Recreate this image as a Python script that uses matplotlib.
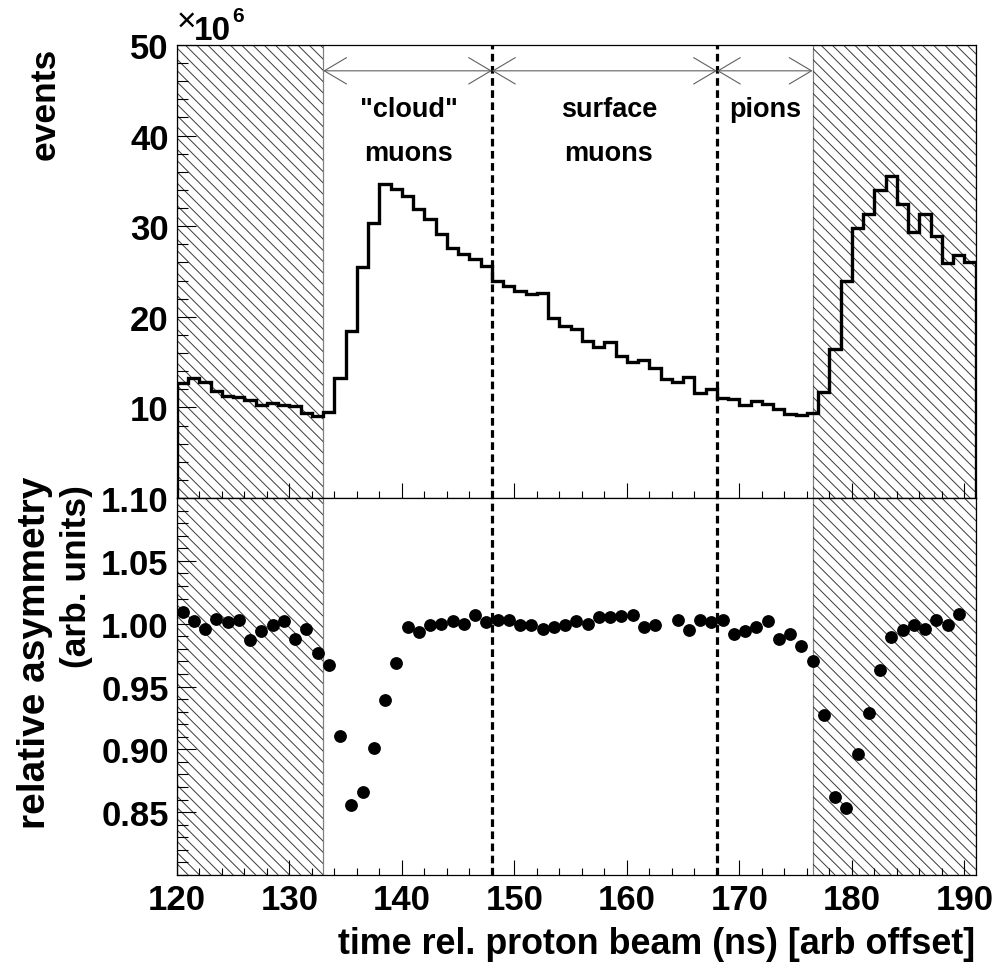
import numpy as np
import matplotlib
matplotlib.use("Agg")
import matplotlib.pyplot as plt
from matplotlib.patches import Rectangle
from matplotlib.collections import LineCollection
import matplotlib.transforms as mtransforms
from matplotlib.ticker import MultipleLocator

plt.rcParams['font.family'] = ['Liberation Sans', 'DejaVu Sans']
plt.rcParams['font.weight'] = 'bold'

# time bins, 1 ns wide
bin_edges = np.arange(120, 192)
bin_centers = bin_edges[:-1] + 0.5

# counts per bin in units of 1e6
events_1e6 = [
    12.7, 13.2, 12.8, 11.8, 11.3, 11.1, 10.8, 10.3, 10.5, 10.3, 10.1, 9.4, 9.1, 9.5,
    13.2, 18.4, 25.5, 30.3, 34.7, 34.1, 33.3, 31.9, 30.8, 29.1, 27.6, 26.9, 26.4, 25.6,
    23.9, 23.4, 22.9, 22.5, 22.6, 19.9, 19.0, 18.6, 17.3, 16.7, 17.2, 15.7, 15.0, 15.2,
    14.4, 13.1, 12.8, 13.4, 11.6, 12.0, 11.0, 10.9, 10.3, 10.7, 10.4, 9.8, 9.3, 9.2,
    9.4, 11.7,
    16.4, 24.0, 29.8, 31.4, 34.0, 35.5, 32.4, 29.4, 31.3, 28.9, 25.9, 26.8, 26.0,
]

# relative asymmetry per bin (nan = no point)
asymmetry = [
    1.009, 1.002, 0.996, 1.004, 1.001, 1.003, 0.987, 0.994, 0.999, 1.002, 0.988, 0.996, 0.977, 0.967,
    0.911, 0.856, 0.866, 0.901, 0.939, 0.969, 0.997, 0.993, 0.999, 1.000, 1.002, 1.000, 1.007, 1.001,
    1.003, 1.003, 0.999, 0.999, 0.996, 0.997, 0.999, 1.002, 1.000, 1.005, 1.005, 1.006, 1.007, 0.997,
    0.999, np.nan, 1.003, 0.995, 1.003, 1.001, 1.003, 0.992, 0.994, 0.997, 1.002, 0.988, 0.992, 0.982,
    0.970, 0.927, 0.862, 0.853, 0.896, 0.929, 0.963, 0.989, 0.995, 0.999, 0.996, 1.003, 0.999, 1.008,
    np.nan,
]

# excluded windows (hatched) and region boundaries
excluded = [(120.0, 133.0), (176.5, 191.0)]
boundaries = [148.0, 168.0]
regions = [(133.0, 148.0), (148.0, 168.0), (168.0, 176.5)]
region_labels = [['"cloud"', 'muons'], ['surface', 'muons'], ['pions']]
label_x = [140.6, 158.4, 172.3]

W, H = 1003, 970
fig = plt.figure(figsize=(W / 100, H / 100), dpi=100)
left, right = 177 / W, 975.7 / W
ax_top = fig.add_axes([left, 1 - 499 / H, right - left, 453 / H])
ax_bot = fig.add_axes([left, 1 - 876 / H, right - left, 377 / H])

xlim = (120, 191)
ax_top.set_xlim(*xlim)
ax_top.set_ylim(0, 50)
ax_bot.set_xlim(*xlim)
ax_bot.set_ylim(0.80, 1.10)


def hatch_band(ax, x0, x1, spacing=11.25):
    y0, y1 = ax.get_ylim()
    rect = Rectangle((x0, y0), x1 - x0, y1 - y0, fill=False,
                     edgecolor='#808080', lw=0.9, zorder=1)
    ax.add_patch(rect)
    px0, py0 = ax.transData.transform((x0, y0))
    px1, py1 = ax.transData.transform((x1, y1))
    h = py1 - py0
    segs = [[(xs, py1), (xs + h, py0)]
            for xs in np.arange(px0 - h, px1 + spacing, spacing)]
    lc = LineCollection(segs, colors='#3a3a3a', linewidths=0.7,
                        transform=mtransforms.IdentityTransform(), zorder=1)
    ax.add_collection(lc)
    lc.set_clip_path(rect)


for ax in (ax_top, ax_bot):
    for x0, x1 in excluded:
        hatch_band(ax, x0, x1)
    for xb in boundaries:
        ax.axvline(xb, color='black', lw=2.3, dashes=(2.4, 1.4), zorder=3)
    ax.xaxis.set_major_locator(MultipleLocator(10))
    ax.xaxis.set_minor_locator(MultipleLocator(2))
    ax.tick_params(axis='both', which='both', direction='in',
                   top=False, right=False, width=0.8, labelsize=25)
    ax.tick_params(axis='x', which='major', length=11, pad=6)
    ax.tick_params(axis='x', which='minor', length=5)
    ax.tick_params(axis='y', which='major', length=14, pad=6)
    ax.tick_params(axis='y', which='minor', length=8)
    for s in ax.spines.values():
        s.set_linewidth(0.9)

# histogram
ax_top.stairs(events_1e6, bin_edges, color='black', lw=2.4, zorder=4)
ax_top.yaxis.set_major_locator(MultipleLocator(10))
ax_top.yaxis.set_minor_locator(MultipleLocator(2))
ax_top.set_yticks([10, 20, 30, 40, 50])
ax_top.tick_params(axis='x', labelbottom=False)

# region arrows and labels
arrow_y = 47.15
for (x0, x1), lines, lx in zip(regions, region_labels, label_x):
    ax_top.annotate('', xy=(x1, arrow_y), xytext=(x0, arrow_y),
                    arrowprops=dict(arrowstyle='<->,head_length=1.6,head_width=0.95',
                                    mutation_scale=10, color='#606060', lw=0.8,
                                    shrinkA=0, shrinkB=0), zorder=5)
    for i, line in enumerate(lines):
        ax_top.text(lx, 42.2 - 4.9 * i, line, ha='center', va='baseline',
                    fontsize=19.5, fontweight='bold', zorder=5)

# asymmetry points
ax_bot.plot(bin_centers, asymmetry, 'o', color='black', ms=8.2, zorder=4)
ax_bot.yaxis.set_major_locator(MultipleLocator(0.05))
ax_bot.yaxis.set_minor_locator(MultipleLocator(0.01))
ax_bot.set_yticks([0.85, 0.90, 0.95, 1.00, 1.05, 1.10])
ax_bot.set_yticklabels(['0.85', '0.90', '0.95', '1.00', '1.05', '1.10'])

for lab in ax_top.get_yticklabels() + ax_bot.get_yticklabels() + ax_bot.get_xticklabels():
    lab.set_fontweight('bold')

# axis titles and exponent
fig.text(177 / W, 1 - 22 / H, '\u00d7', fontsize=24, fontweight='normal',
         ha='left', va='center')
fig.text(194 / W, 1 - 31 / H, '10', fontsize=24, fontweight='bold',
         ha='left', va='center')
fig.text(232 / W, 1 - 16 / H, '6', fontsize=15, fontweight='bold',
         ha='left', va='center')
fig.text(45 / W, 1 - 48 / H, 'events', rotation=90, fontsize=25.5,
         fontweight='bold', ha='center', va='top')
fig.text(35 / W, 1 - 477 / H, 'relative asymmetry', rotation=90, fontsize=28,
         fontweight='bold', ha='center', va='top')
fig.text(77 / W, 1 - 485 / H, '(arb. units)', rotation=90, fontsize=25.5,
         fontweight='bold', ha='center', va='top')
fig.text(975 / W, 1 - 945 / H, 'time rel. proton beam (ns) [arb offset]',
         fontsize=25.8, fontweight='bold', ha='right', va='center')

fig.savefig('out.png', dpi=100)
